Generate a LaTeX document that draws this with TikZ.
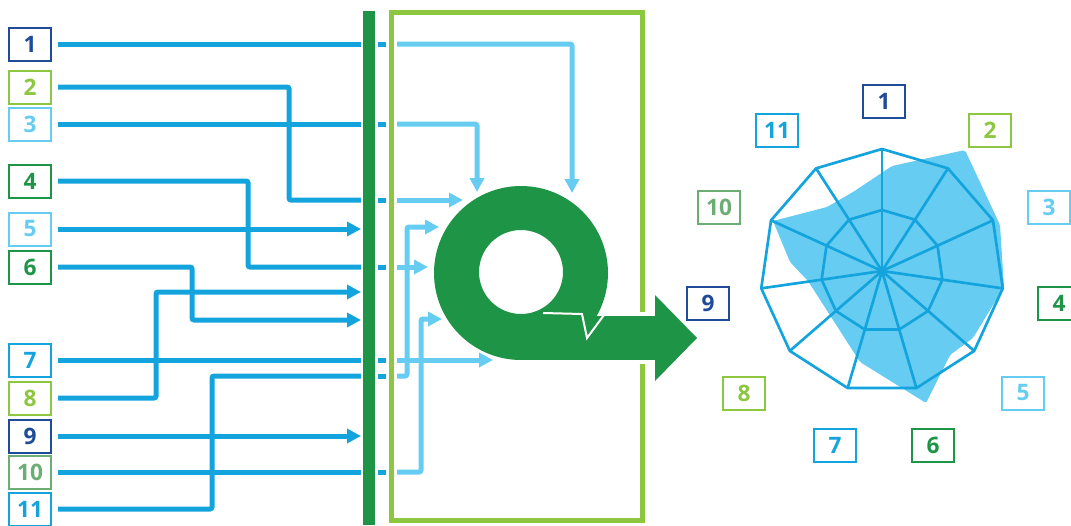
\documentclass[tikz,border=0pt]{standalone}
\usepackage{fontspec}
\setmainfont{Open Sans}
\usetikzlibrary{arrows.meta,calc}

\definecolor{dkblue}{HTML}{1F4B99}
\definecolor{ltgreen}{HTML}{8DC63F}
\definecolor{ltblue}{HTML}{66CCF2}
\definecolor{dkgreen}{HTML}{1E9446}
\definecolor{sage}{HTML}{6BAD72}
\definecolor{wireblue}{HTML}{13A4DD}

\begin{document}
\begin{tikzpicture}[x=0.75pt,y=-0.75pt,
    num/.style={draw=#1,text=#1,line width=1.5pt,minimum width=31.5pt,minimum height=24.75pt,
      inner sep=0pt,font=\fontsize{17}{17}\selectfont\bfseries},
    wire/.style={wireblue,line width=3.75pt,rounded corners=1.5pt,shorten <=4.5pt},
    feed/.style={ltblue,line width=3.75pt,rounded corners=1.5pt},
    arrowed/.style={-{Triangle[length=10.5pt,width=10.5pt]}},
    spoke/.style={wireblue,line width=2pt,line join=round}]
  \useasboundingbox (0,0) rectangle (1071,525);

  % bar and frame
  \fill[dkgreen] (363,11) rectangle (375,525);
  \draw[ltgreen,line width=3.75pt] (391.5,12.5) rectangle (642.5,520);

  % left labels
  \foreach \n/\y/\c in {1/44/dkblue,2/87/ltgreen,3/124/ltblue,4/181/dkgreen,5/229/ltblue,6/267/dkgreen,
      7/360/wireblue,8/398/ltgreen,9/436/dkblue,10/472/sage,11/509/wireblue}
    \node[num=\c] (L\n) at (30,\y) {\n};

  \foreach \n/\y in {1/44,2/200,3/124,4/267,5/229,6/320,7/360,8/292,9/436,10/472,11/376}
    \coordinate (in\n) at (361,\y);

  \draw[wire] (L1.east) -- (in1);
  \draw[wire] (L2.east) -| ($(in2)+(-72,0)$) -- (in2);
  \draw[wire] (L3.east) -- (in3);
  \draw[wire] (L4.east) -| ($(in4)+(-113,0)$) -- (in4);
  \draw[wire,arrowed] (L5.east) -- (in5);
  \draw[wire,arrowed] (L6.east) -| ($(in6)+(-169,0)$) -- (in6);
  \draw[wire] (L7.east) -- (in7);
  \draw[wire,arrowed] (L8.east) -| ($(in8)+(-205,0)$) -- (in8);
  \draw[wire,arrowed] (L9.east) -- (in9);
  \draw[wire] (L10.east) -- (in10);
  \draw[wire] (L11.east) -| ($(in11)+(-149,0)$) -- (in11);

  % pass-through marks
  \foreach \y in {44,124,200,267,360,376,472}
    \draw[wireblue,line width=3.75pt] (378,\y) -- (386,\y);

  % feeds into the loop
  \foreach \n/\y in {1/44,2/200,3/124,4/267,7/360,10/472,11/376}
    \coordinate (out\n) at (397,\y);
  \coordinate (t1) at (572,193);
  \coordinate (t2) at (463,200);
  \coordinate (t3) at (477,192);
  \coordinate (t4) at (428,267);
  \coordinate (t7) at (493,360);
  \coordinate (t10) at (442,319);
  \coordinate (t11) at (439,227);
  \draw[feed,arrowed] (out1) -| (t1);
  \draw[feed,arrowed] (out3) -| (t3);
  \draw[feed,arrowed] (out2) -- (t2);
  \draw[feed,arrowed] (out4) -- (t4);
  \draw[feed,arrowed] (out11) -- ++(10,0) |- (t11);
  \draw[feed,arrowed] (out10) -- ++(24,0) |- (t10);
  \draw[feed,arrowed] (out7) -- (t7);

  % loop arrow
  \fill[dkgreen,even odd rule] (521,273) circle[radius=65.25pt] (521,272) circle[radius=31.5pt];
  \fill[white] (638,312) rectangle (647,364);
  \fill[dkgreen] (521,316) rectangle (655,360);
  \fill[dkgreen] (655,295) -- (697,338) -- (655,381) -- cycle;
  \draw[white,line width=1.5pt] (543,313) -- (582,314) -- (587,338) -- (604,315);

  % radar
  \coordinate (C) at (882,271);
  \foreach \k in {0,...,10} {
    \coordinate (v\k) at ($(C)+({-90+\k*360/11}:122)$);
    \coordinate (m\k) at ($(C)+({-90+\k*360/11}:61)$);
  }
  \fill[ltblue,rounded corners=1.5pt] (892,166) -- (965,150) -- (1000,225) -- (1004,287) -- (973,338)
    -- (950,355) -- (926,403) -- (860,362) -- (808,281) -- (790,262) -- (773,221) -- (827,207)
    -- (853,192) -- cycle;
  \draw[spoke] (v0) \foreach \k in {1,...,10}{ -- (v\k)} -- cycle;
  \draw[spoke] (m0) \foreach \k in {1,...,10}{ -- (m\k)} -- cycle;
  \foreach \k in {0,...,10}
    \draw[spoke] (C) -- (v\k);

  \foreach \n/\p/\c in {1/{884,101}/dkblue,2/{990,130}/ltgreen,3/{1049,207}/ltblue,4/{1059,303}/dkgreen,
      5/{1023,393}/ltblue,6/{933,445}/dkgreen,7/{835,445}/wireblue,8/{744,393}/ltgreen,
      9/{708,303}/dkblue,10/{719,207}/sage,11/{777,130}/wireblue}
    \node[num=\c] (R\n) at (\p) {\n};
\end{tikzpicture}
\end{document}
